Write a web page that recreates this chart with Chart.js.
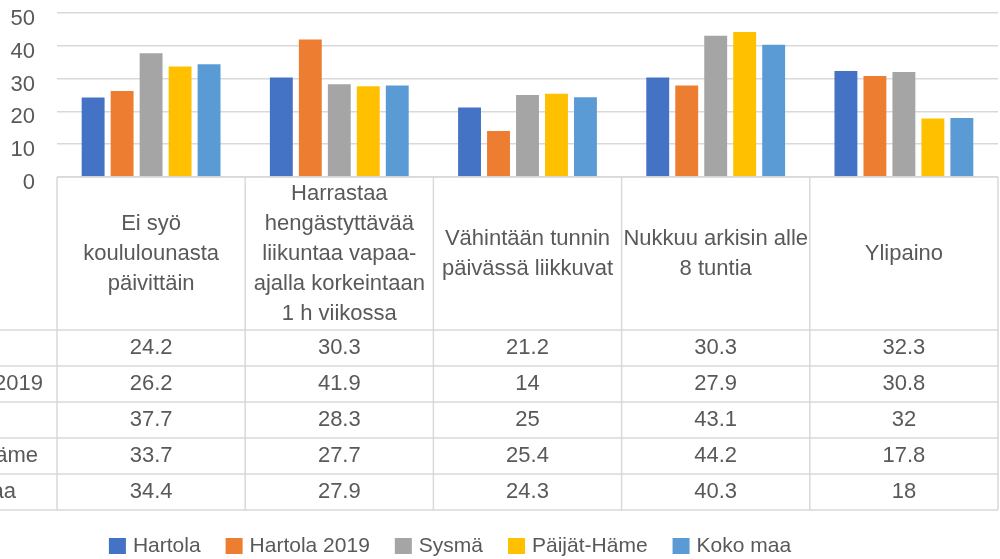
<!DOCTYPE html>
<html>
<head>
<meta charset="utf-8">
<script src="https://cdn.jsdelivr.net/npm/chart.js@4.4.1/dist/chart.umd.min.js"></script>
<style>
  html, body { margin: 0; padding: 0; background: #fff; }
  #wrap { width: 1000px; height: 559px; }
</style>
</head>
<body>
<div id="wrap"><canvas id="chart" width="1000" height="559"></canvas></div>
<script>
// Data
const categories = [
  ['Ei syö', 'koululounasta', 'päivittäin'],
  ['Harrastaa', 'hengästyttävää', 'liikuntaa vapaa-', 'ajalla korkeintaan', '1 h viikossa'],
  ['Vähintään tunnin', 'päivässä liikkuvat'],
  ['Nukkuu arkisin alle', '8 tuntia'],
  ['Ylipaino']
];
const seriesNames = ['Hartola', 'Hartola 2019', 'Sysmä', 'Päijät-Häme', 'Koko maa'];
const hartola = [24.2, 30.3, 21.2, 30.3, 32.3];
const hartola2019 = [26.2, 41.9, 14, 27.9, 30.8];
const sysma = [37.7, 28.3, 25, 43.1, 32];
const paijatHame = [33.7, 27.7, 25.4, 44.2, 17.8];
const kokoMaa = [34.4, 27.9, 24.3, 40.3, 18];
const yTicks = [0, 10, 20, 30, 40, 50];
const colors = ['#4472C4', '#ED7D31', '#A5A5A5', '#FFC000', '#5B9BD5'];

const FONT = "'Liberation Sans', Arial, sans-serif";
const TEXT = '#595959';
const LINE = '#d9d9d9';

// Excel-style data table + legend, drawn under the plot area
const dataTable = {
  id: 'dataTable',
  afterDraw(chart) {
    const { ctx, chartArea, scales: { x } } = chart;
    const top = chartArea.bottom;
    const headH = 153, rowH = 36;
    const colW = (chartArea.right - chartArea.left) / categories.length;
    const bottom = top + headH + rowH * seriesNames.length;

    ctx.save();
    ctx.strokeStyle = LINE;
    ctx.lineWidth = 1.5;
    ctx.beginPath();
    ctx.moveTo(chartArea.left, top);
    ctx.lineTo(chartArea.right, top);
    for (let r = 0; r <= seriesNames.length; r++) {
      const y = top + headH + r * rowH;
      ctx.moveTo(0, y);
      ctx.lineTo(chartArea.right, y);
    }
    for (let c = 0; c <= categories.length; c++) {
      const xx = chartArea.left + c * colW;
      ctx.moveTo(xx, top);
      ctx.lineTo(xx, bottom);
    }
    ctx.stroke();

    ctx.fillStyle = TEXT;
    ctx.font = '22px ' + FONT;
    ctx.textAlign = 'center';
    ctx.textBaseline = 'middle';

    // header cells
    categories.forEach((lines, i) => {
      const cx = x.getPixelForValue(i);
      const cy = top + headH / 2;
      const lh = 30;
      lines.forEach((l, k) => {
        ctx.fillText(l, cx, cy + (k - (lines.length - 1) / 2) * lh);
      });
    });

    // values
    chart.data.datasets.forEach((ds, r) => {
      const cy = top + headH + r * rowH + rowH / 2;
      ds.data.forEach((v, i) => {
        ctx.fillText(String(v), x.getPixelForValue(i), cy);
      });
    });

    // row labels (mostly cut off on the left)
    ctx.textAlign = 'left';
    const labelX = 43 - ctx.measureText(seriesNames[1]).width;
    seriesNames.forEach((name, r) => {
      ctx.fillText(name, labelX, top + headH + r * rowH + rowH / 2);
    });

    // legend
    ctx.font = '21px ' + FONT;
    const box = 17, gap = 7, itemGap = 25;
    const widths = seriesNames.map(n => box + gap + ctx.measureText(n).width);
    const total = widths.reduce((a, b) => a + b, 0) + itemGap * (widths.length - 1);
    let lx = 450 - total / 2;
    const ly = 546;
    seriesNames.forEach((name, i) => {
      ctx.fillStyle = colors[i];
      ctx.fillRect(lx, ly - 8, box, 16);
      ctx.fillStyle = TEXT;
      ctx.fillText(name, lx + box + gap, ly);
      lx += widths[i] + itemGap;
    });
    ctx.restore();
  }
};

const ctx = document.getElementById('chart').getContext('2d');
new Chart(ctx, {
  type: 'bar',
  data: {
    labels: categories,
    datasets: [hartola, hartola2019, sysma, paijatHame, kokoMaa].map((d, i) => ({
      label: seriesNames[i],
      data: d,
      backgroundColor: colors[i],
      borderWidth: 0,
      categoryPercentage: 0.77,
      barPercentage: 0.79
    }))
  },
  options: {
    responsive: false,
    animation: false,
    layout: { padding: { top: 0, right: 2, bottom: 382, left: 0 } },
    plugins: {
      legend: { display: false },
      tooltip: { enabled: false }
    },
    scales: {
      x: { display: false },
      y: {
        min: 0,
        max: 50,
        afterFit: s => { s.width = 57; s.paddingTop = 13; s.paddingBottom = 0; },
        ticks: {
          stepSize: 5,
          padding: 22,
          labelOffset: 6,
          color: TEXT,
          font: { family: FONT, size: 22 },
          callback: v => yTicks.includes(v) ? v : ''
        },
        grid: { color: LINE, lineWidth: 1.5, drawTicks: false },
        border: { display: false }
      }
    }
  },
  plugins: [dataTable]
});
</script>
</body>
</html>
